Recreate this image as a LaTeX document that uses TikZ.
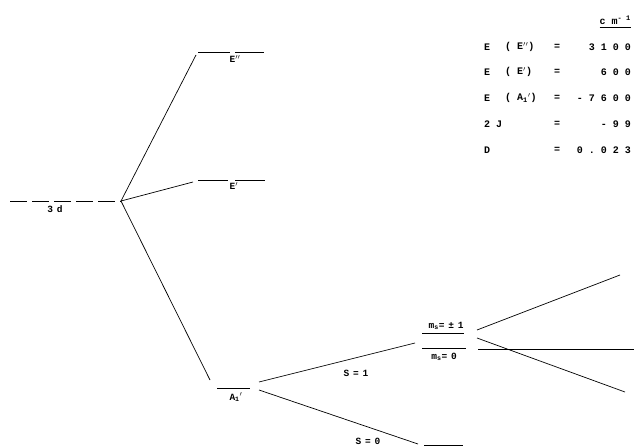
\documentclass[tikz,border=0pt]{standalone}
\usepackage{fontspec}
\newfontfamily\tw[LetterSpace=40]{Liberation Mono}
\newfontfamily\twv[LetterSpace=60]{Liberation Mono}
\begin{document}
\begin{tikzpicture}[x=1pt,y=-1pt,
  lvl/.style={line width=1pt},
  con/.style={line width=0.7pt},
  lab/.style={font=\tw\fontsize{9.5}{10}\selectfont\bfseries, inner sep=0pt},
  tab/.style={font=\twv\fontsize{10}{11}\selectfont\bfseries, inner sep=0pt}]
\useasboundingbox (0,0) rectangle (634,447);
% 3d level
\coordinate (d3L) at (10,201);
\coordinate (d3R) at (121,201);
\draw[lvl, dash pattern=on 17pt off 5pt] (d3L) -- (d3R);
\node[lab] (l3d) at (55,209) {3d};
% E'' level
\coordinate (e2a) at (198,52); \coordinate (e2b) at (230,52);
\coordinate (e2c) at (235,52); \coordinate (e2d) at (264,52);
\draw[lvl] (e2a) -- (e2b) (e2c) -- (e2d);
\node[lab] (lE2) at (235,59) {E$''$};
% E' level
\coordinate (e1a) at (198,180); \coordinate (e1b) at (228,180);
\coordinate (e1c) at (235,180); \coordinate (e1d) at (265,180);
\draw[lvl] (e1a) -- (e1b) (e1c) -- (e1d);
\node[lab] (lE1) at (234,186) {E$'$};
\coordinate (e1in) at (193,182);
% A1' level
\coordinate (a1a) at (217,388); \coordinate (a1b) at (250,388);
\draw[lvl] (a1a) -- (a1b);
\node[lab] (lA1) at (236,397) {A\textsubscript{1}$'$};
\coordinate (a1in) at (210,380);
\coordinate (a1o1) at (259,382);
\coordinate (a1o2) at (259,390);
% connectors from 3d
\draw[con] (d3R) -- (196,55) coordinate (e2in);
\draw[con] (d3R) -- (e1in);
\draw[con] (d3R) -- (a1in);
% S=1 / S=0
\coordinate (s1in) at (415,343);
\coordinate (s0in) at (418,444);
\draw[con] (a1o1) -- (s1in);
\draw[con] (a1o2) -- (s0in);
\node[lab] (lS1) at (356,373) {S=1};
\node[lab] (lS0) at (368,441) {S=0};
\coordinate (s0a) at (424,445); \coordinate (s0b) at (463,445);
\draw[lvl] (s0a) -- (s0b);
% ms levels
\coordinate (mpa) at (422,333); \coordinate (mpb) at (464,333);
\coordinate (m0a) at (422,348); \coordinate (m0b) at (466,348);
\draw[lvl] (mpa) -- (mpb);
\draw[lvl] (m0a) -- (m0b);
\node[lab] (lmp) at (446,326) {m\textsubscript{s}=±1};
\node[lab] (lm0) at (444,357) {m\textsubscript{s}=0};
% right splitting
\coordinate (r1a) at (477,330); \coordinate (r1b) at (620,275);
\coordinate (r2a) at (477,338); \coordinate (r2b) at (625,392);
\coordinate (r3a) at (478,349); \coordinate (r3b) at (634,349);
\draw[con] (r1a) -- (r1b);
\draw[con] (r2a) -- (r2b);
\draw[lvl] (r3a) -- (r3b);
% table
\node[tab, anchor=east] (cm) at (631,20) {cm\textsuperscript{-1}};
\draw[con] (cm.south west) ++(0,3) coordinate (ul1) -- (cm.south east |- ul1) coordinate (ul2);
\node[tab, anchor=west] (t1a) at (484,47) {E};
\node[tab, anchor=west] (t1b) at (505,47) {(E$''$)};
\node[tab] (t1c) at (557,47) {=};
\node[tab, anchor=east] (t1d) at (631,47) {3100};
\node[tab, anchor=west] (t2a) at (484,72) {E};
\node[tab, anchor=west] (t2b) at (505,72) {(E$'$)};
\node[tab] (t2c) at (557,72) {=};
\node[tab, anchor=east] (t2d) at (631,72) {600};
\node[tab, anchor=west] (t3a) at (484,98) {E};
\node[tab, anchor=west] (t3b) at (505,98) {(A\textsubscript{1}$'$)};
\node[tab] (t3c) at (557,98) {=};
\node[tab, anchor=east] (t3d) at (631,98) {-7600};
\node[tab, anchor=west] (t4a) at (484,124) {2J};
\node[tab] (t4c) at (557,124) {=};
\node[tab, anchor=east] (t4d) at (631,124) {-99};
\node[tab, anchor=west] (t5a) at (484,150) {D};
\node[tab] (t5c) at (557,150) {=};
\node[tab, anchor=east] (t5d) at (631,150) {0.023};
\end{tikzpicture}
\end{document}
